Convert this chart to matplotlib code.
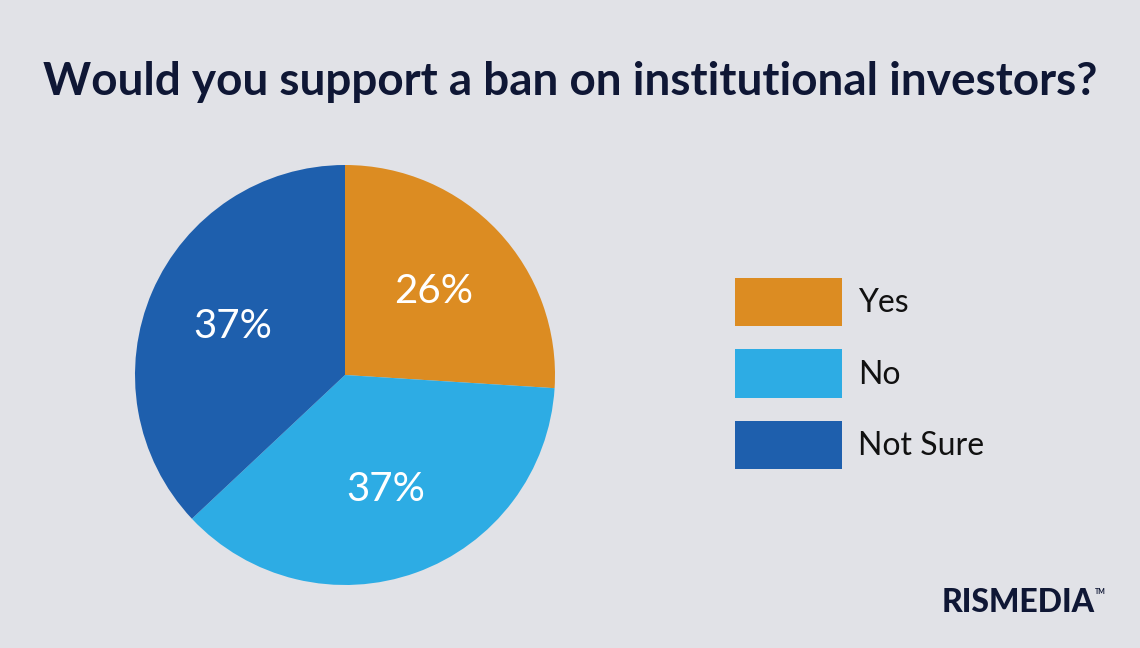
import matplotlib
matplotlib.use("Agg")
from matplotlib import pyplot as plt

# dados
categorias = ["Yes", "No", "Not Sure"]
valores = [26, 37, 37]
cores = ["#DC8C22", "#2DACE4", "#1E5FAD"]
titulo = "Would you support a ban on institutional investors?"

fundo = "#E1E2E7"
navy = "#0F1735"

plt.rcParams['font.family'] = ['Lato', 'DejaVu Sans']

fig = plt.figure(figsize=(11.4, 6.48), dpi=100, facecolor=fundo)

ax = fig.add_axes([135 / 1140, 63 / 648, 420 / 1140, 420 / 648])
ax.set_facecolor(fundo)
fatias, textos, pcts = ax.pie(valores, colors=cores, startangle=90, counterclock=False,
                              autopct=lambda p: f"{p:.0f}%", pctdistance=0.58,
                              radius=1, wedgeprops=dict(linewidth=0))
for t in pcts:
    t.set_color("white")
    t.set_fontsize(29)
ax.set_xlim(-1, 1)
ax.set_ylim(-1, 1)
ax.set_aspect("equal")
ax.axis("off")

fig.text(0.5, 1 - 82 / 648, titulo, ha="center", va="center", fontsize=33,
         fontweight="bold", color=navy)

leg = fig.legend(fatias, categorias, loc="upper left",
                 bbox_to_anchor=(735 / 1140, 1 - 278 / 648),
                 frameon=False, fontsize=23, handlelength=3.35, handleheight=1.95,
                 labelspacing=0.72, handletextpad=0.5, borderpad=0, borderaxespad=0)
for t in leg.get_texts():
    t.set_color("#111111")

fig.text(1095 / 1140, 1 - 603 / 648, "RISMEDIA", ha="right", va="center",
         fontsize=23, fontweight="black", color=navy)
fig.text(1106 / 1140, 1 - 591 / 648, "TM", ha="right", va="center",
         fontsize=5, fontweight="bold", color=navy)

fig.savefig("out.png", dpi=100, facecolor=fundo)
